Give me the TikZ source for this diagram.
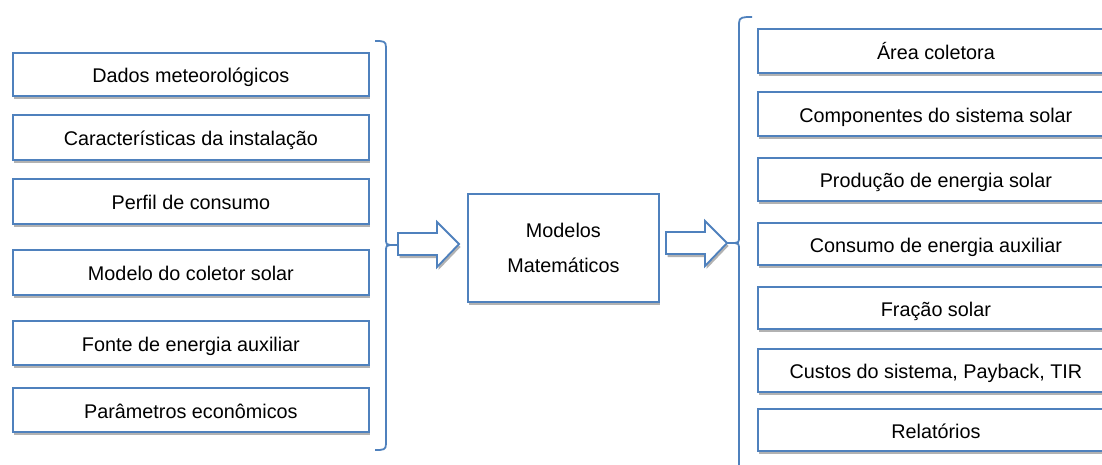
\documentclass[tikz,border=0pt]{standalone}
\usepackage{fontspec}
\setmainfont{Liberation Sans}
\usetikzlibrary{shadows}
\definecolor{boxblue}{HTML}{4F81BD}
\begin{document}
\begin{tikzpicture}[x=1pt,y=-1pt,
  shad/.style={drop shadow={shadow xshift=1.5pt,shadow yshift=-3pt,fill=black,opacity=0.3}},
  itembox/.style={draw=boxblue,line width=1.8pt,fill=white,shad,minimum width=356pt,
    inner sep=0pt,anchor=north west,text height=18pt,text depth=1pt,
    font=\fontsize{19.8}{24}\selectfont},
  brk/.style={draw=boxblue,line width=1.8pt},
  blockarrow/.style={draw=boxblue,line width=1.8pt,fill=white,shad,line join=miter}]
\useasboundingbox (0,0) rectangle (1102,464);
\clip (0,0) rectangle (1102,464);
% left column
\node[itembox,minimum height=43pt] (l1) at (12,52) {Dados meteorológicos};
\node[itembox,minimum height=45pt] (l2) at (12,114) {Características da instalação};
\node[itembox,minimum height=45pt] (l3) at (12,178) {Perfil de consumo};
\node[itembox,minimum height=45pt] (l4) at (12,249) {Modelo do coletor solar};
\node[itembox,minimum height=44pt] (l5) at (12,320) {Fonte de energia auxiliar};
\node[itembox,minimum height=44pt] (l6) at (12,387) {Parâmetros econômicos};
% left bracket
\draw[brk] (375,41) .. controls (383,41) and (386,41) .. (386,47) -- (386,240)
  .. controls (386,244) and (387,245) .. (390,245) -- (398,245);
\draw[brk] (386,250) .. controls (386,246) and (387,245) .. (390,245);
\draw[brk] (386,248) -- (386,444) .. controls (386,450) and (383,450) .. (375,450);
% arrow 1
\draw[blockarrow] (398,233) -- (437,233) -- (437,222) -- (459,244) -- (437,267) -- (437,255) -- (398,255) -- cycle;
% middle box
\node[draw=boxblue,line width=1.8pt,fill=white,shad,anchor=north west,minimum width=191pt,
  minimum height=108pt,inner sep=0pt,align=center,font=\fontsize{19.8}{35}\selectfont] (mm) at (467,193)
  {\raisebox{-5pt}{\begin{tabular}{@{}c@{}}Modelos\\Matemáticos\end{tabular}}};
% arrow 2
\draw[blockarrow] (666,232) -- (705,232) -- (705,221) -- (727,243) -- (705,266) -- (705,254) -- (666,254) -- cycle;
% right bracket
\draw[brk] (752,17) .. controls (743,17) and (739,17) .. (739,23) -- (739,238)
  .. controls (739,242) and (738,243) .. (735,243) -- (727,243);
\draw[brk] (735,243) .. controls (738,243) and (739,244) .. (739,248) -- (739,470);
% right column
\node[itembox,minimum height=44pt] (r1) at (757,28) {Área coletora};
\node[itembox,minimum height=44pt] (r2) at (757,91) {Componentes do sistema solar};
\node[itembox,minimum height=43pt] (r3) at (757,157) {Produção de energia solar};
\node[itembox,minimum height=42pt] (r4) at (757,222) {Consumo de energia auxiliar};
\node[itembox,minimum height=42pt] (r5) at (757,286) {Fração solar};
\node[itembox,minimum height=43pt] (r6) at (757,348) {Custos do sistema, Payback, TIR};
\node[itembox,minimum height=42pt] (r7) at (757,408) {Relatórios};
\end{tikzpicture}
\end{document}
